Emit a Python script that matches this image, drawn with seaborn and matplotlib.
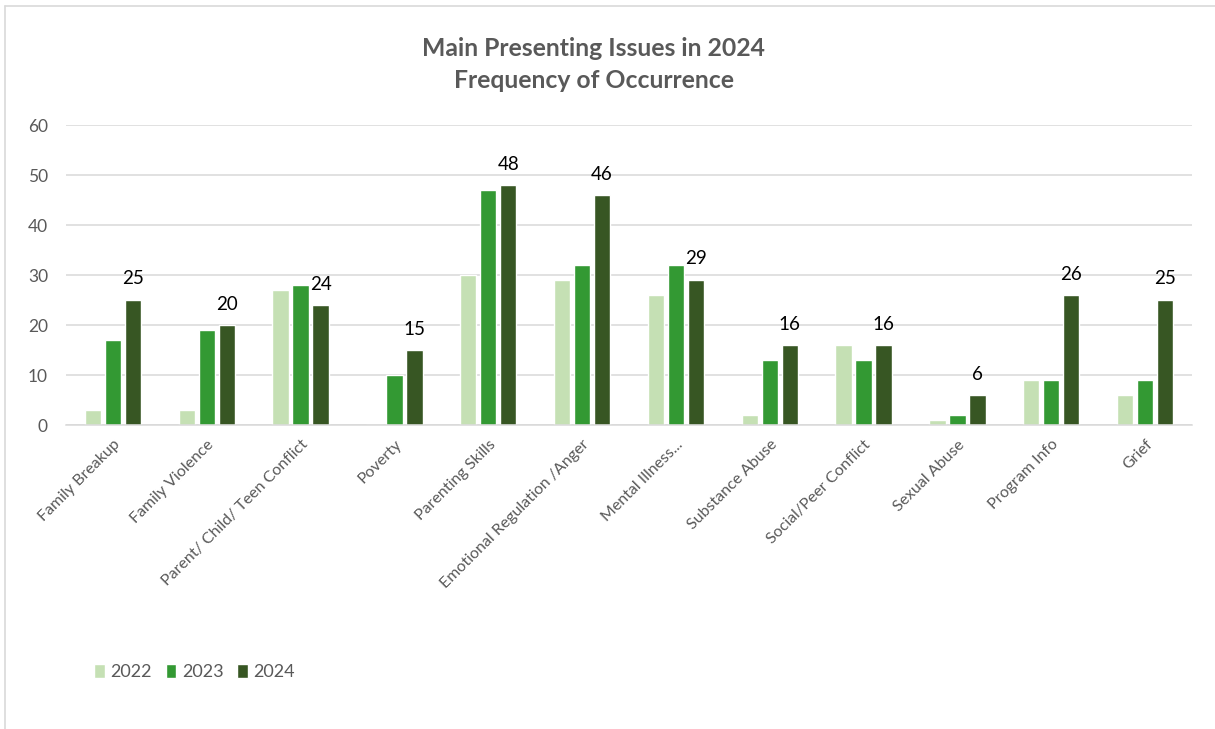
import matplotlib
matplotlib.use("Agg")
import matplotlib.pyplot as plt
from matplotlib.lines import Line2D
import seaborn as sns
import pandas as pd

# Presenting issues and yearly counts
categories = [
    "Family Breakup", "Family Violence", "Parent/ Child/ Teen Conflict", "Poverty",
    "Parenting Skills", "Emotional Regulation /Anger", "Mental Illness...",
    "Substance Abuse", "Social/Peer Conflict", "Sexual Abuse", "Program Info", "Grief",
]
years = ["2022", "2023", "2024"]
counts_2022 = [3, 3, 27, 0, 30, 29, 26, 2, 16, 1, 9, 6]
counts_2023 = [17, 19, 28, 10, 47, 32, 32, 13, 13, 2, 9, 9]
counts_2024 = [25, 20, 24, 15, 48, 46, 29, 16, 16, 6, 26, 25]
y_ticks = [0, 10, 20, 30, 40, 50, 60]

palette = ["#C5E0B4", "#339933", "#375623"]
text_grey = "#595959"
grid_grey = "#D9D9D9"

df = pd.DataFrame({
    "Issue": categories * 3,
    "Year": [y for y in years for _ in categories],
    "Count": counts_2022 + counts_2023 + counts_2024,
})

sns.set_theme(style="white")
plt.rcParams["font.family"] = ["Lato", "DejaVu Sans"]

fig = plt.figure(figsize=(12.15, 7.29), dpi=100)
ax = fig.add_axes([66 / 1215, 1 - 425 / 729, (1192 - 66) / 1215, 300 / 729])

sns.barplot(
    data=df, x="Issue", y="Count", hue="Year", order=categories, hue_order=years,
    palette=palette, width=0.64, gap=0.18, saturation=1, ax=ax, legend=True,
)

ax.set_ylim(0, 60)
ax.set_yticks(y_ticks)
ax.yaxis.grid(True, color=grid_grey, linewidth=1.1)
ax.set_axisbelow(True)
for side in ["top", "right", "left"]:
    ax.spines[side].set_visible(False)
ax.spines["bottom"].set_color(grid_grey)
ax.spines["bottom"].set_linewidth(1.1)
ax.tick_params(axis="both", length=0, colors=text_grey)
ax.tick_params(axis="y", labelsize=12.5, pad=13)
ax.tick_params(axis="x", labelsize=11.5, pad=9)
plt.setp(ax.get_xticklabels(), rotation=45, ha="right", rotation_mode="anchor")
ax.set_xlabel("")
ax.set_ylabel("")

# Value labels on the latest year only
ax.bar_label(ax.containers[2], labels=[str(v) for v in counts_2024],
             padding=9, fontsize=13.5, color="black")

leg = ax.legend(
    loc="center left", bbox_to_anchor=(78 / 1215, 1 - 672 / 729),
    bbox_transform=fig.transFigure, ncol=3, frameon=False, fontsize=13,
    handlelength=0.6, handleheight=0.8, handletextpad=0.3, columnspacing=0.75,
)
for t in leg.get_texts():
    t.set_color(text_grey)

fig.text(594 / 1215, 1 - 49 / 729, "Main Presenting Issues in 2024",
         ha="center", va="center", fontsize=17.8, fontweight="bold", color=text_grey)
fig.text(594 / 1215, 1 - 81 / 729, "Frequency of Occurrence",
         ha="center", va="center", fontsize=17.8, fontweight="bold", color=text_grey)

# Chart frame edges
fig.add_artist(Line2D([5 / 1215, 1], [1 - 6 / 729, 1 - 6 / 729],
                      transform=fig.transFigure, color=grid_grey, linewidth=1.2))
fig.add_artist(Line2D([5 / 1215, 5 / 1215], [0, 1 - 6 / 729],
                      transform=fig.transFigure, color=grid_grey, linewidth=1.2))

fig.savefig("out.png", dpi=100, facecolor="white")
